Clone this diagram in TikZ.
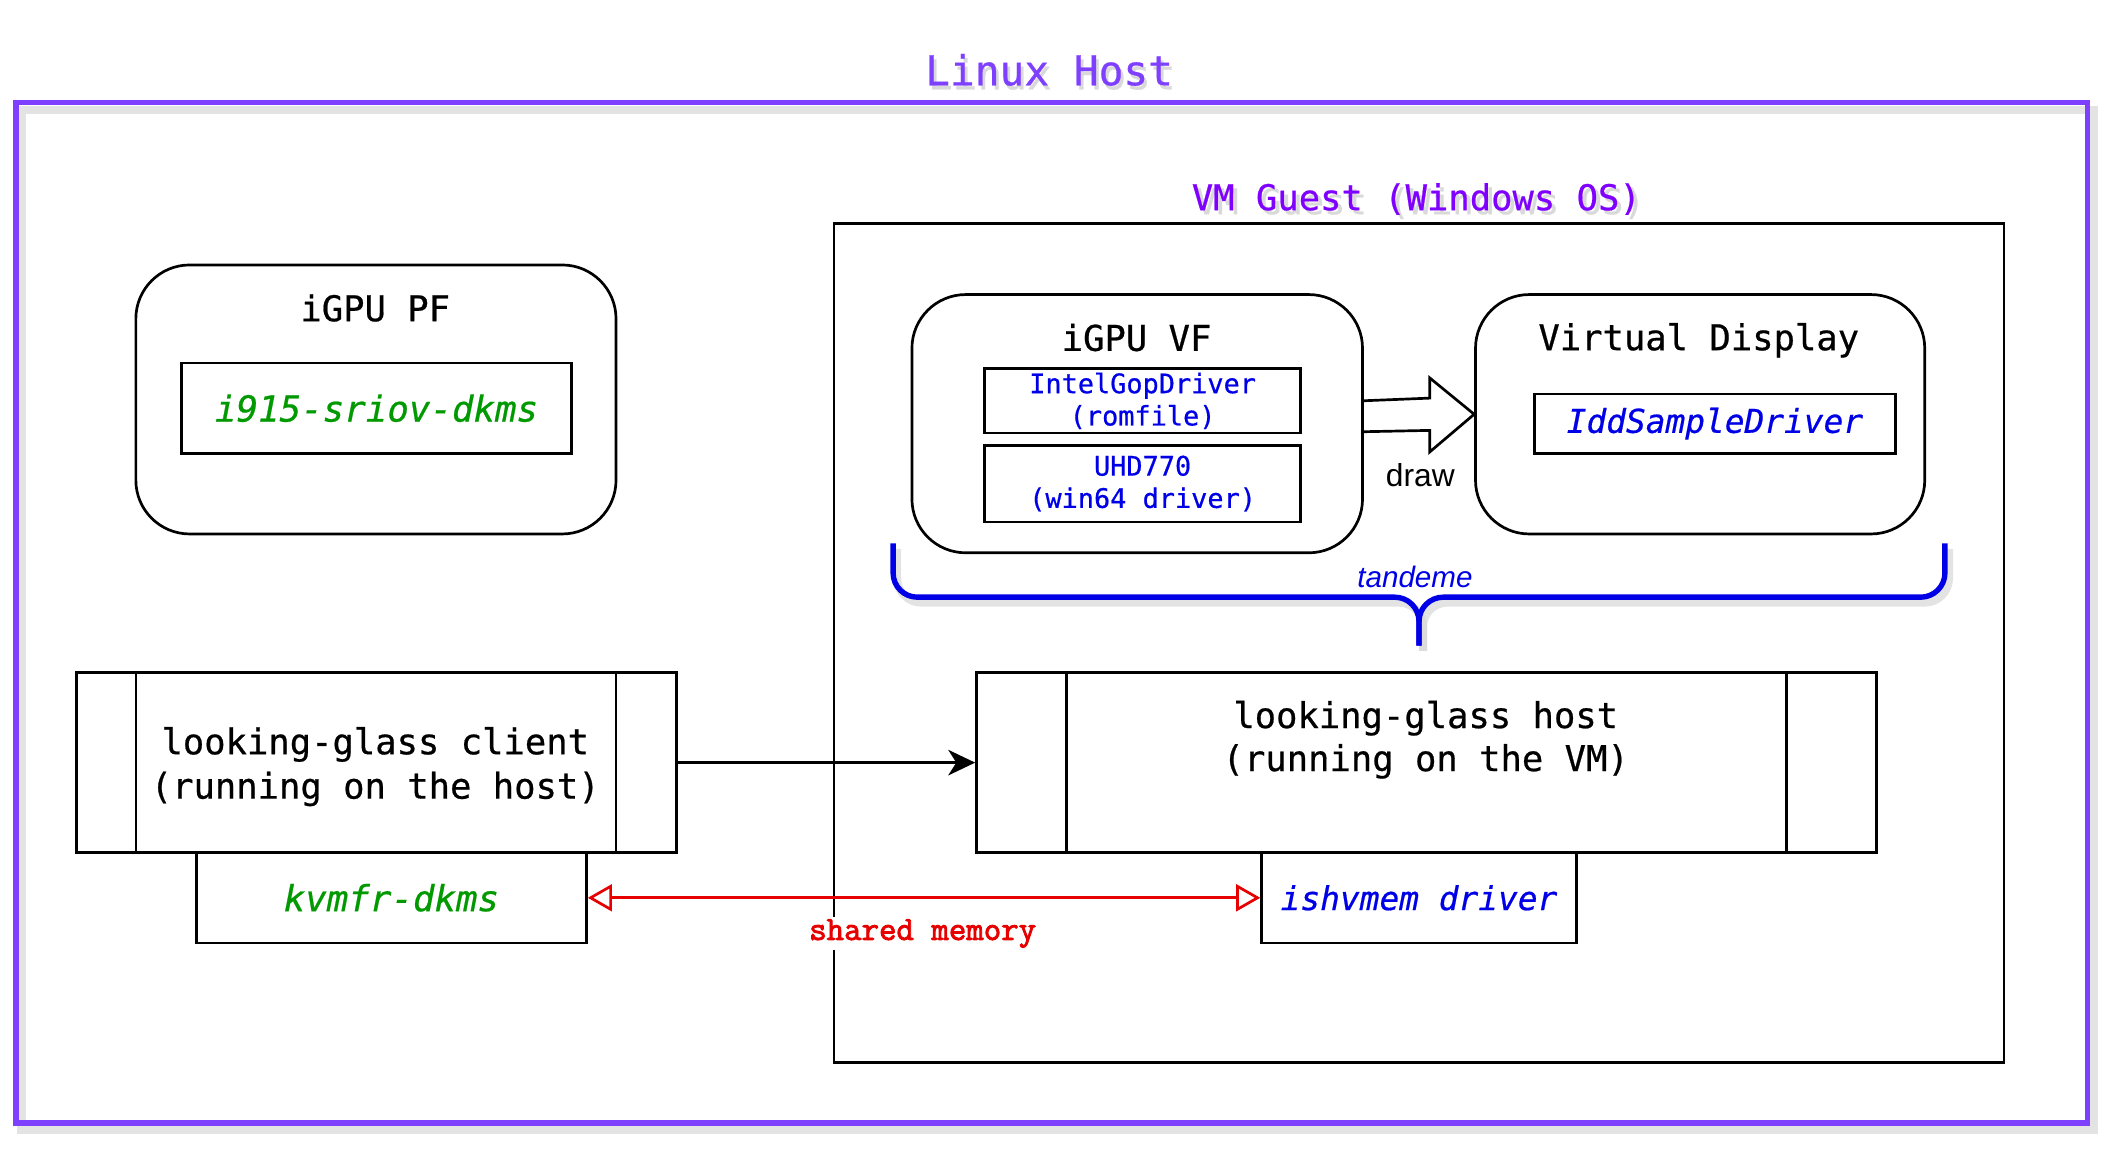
\documentclass[tikz,border=0pt]{standalone}
\usepackage{fontspec}
\setmonofont{DejaVu Sans Mono}[FakeBold=0.6]
\setsansfont{Liberation Sans}
\newfontfamily\courfont{Latin Modern Mono}[FakeBold=2.5]
\usetikzlibrary{arrows.meta,fit,calc}

\definecolor{hostpurple}{RGB}{127,63,255}
\definecolor{guestpurple}{RGB}{127,0,255}
\definecolor{drvgreen}{RGB}{0,153,0}
\definecolor{drvblue}{RGB}{0,0,230}
\definecolor{memred}{RGB}{230,0,0}
\definecolor{shadowgray}{RGB}{215,215,215}

\begin{document}
\begin{tikzpicture}[x=0.5pt,y=-0.5pt,
  box/.style={draw, line width=1pt, inner sep=0pt},
  rbox/.style={draw, line width=1pt, rounded corners=20pt, inner sep=0pt},
  mono/.style={font=\ttfamily\fontsize{13.2pt}{16.5pt}\selectfont, align=center},
  monosmall/.style={font=\ttfamily\fontsize{10pt}{12pt}\selectfont, align=center, text=drvblue},
  drvit/.style={font=\ttfamily\itshape\fontsize{13.3pt}{16pt}\selectfont},
  drvitsmall/.style={font=\ttfamily\itshape\fontsize{12.2pt}{15pt}\selectfont},
  title/.style={font=\ttfamily\fontsize{13.2pt}{16pt}\selectfont},
]
\useasboundingbox (0,0) rectangle (1568,854.3);

% ---------- Linux Host frame ----------
\draw[shadowgray, line width=3pt, opacity=0.7] (16,82) rectangle (1557,840);
\draw[hostpurple, line width=2pt] (12,76) rectangle (1552,835);
\node[font=\ttfamily\fontsize{15.3pt}{18pt}\selectfont, text=black!15] at (782,55) {Linux Host};
\node[font=\ttfamily\fontsize{15.3pt}{18pt}\selectfont, text=hostpurple] (hosttitle) at (780,52) {Linux Host};

% ---------- VM Guest frame ----------
\node[draw, line width=1pt, inner sep=0pt, fit={(620,166) (1490,790)}] (guest) {};
\node[title, text=black!15] at (1056,151) {VM Guest (Windows OS)};
\node[title, text=guestpurple] (guesttitle) at (1053,148) {VM Guest (Windows OS)};

% ---------- iGPU PF ----------
\node[rbox, fit={(101,197) (458,397)}] (pf) {};
\node[title] (pftitle) at (279,229) {iGPU PF};
\node[box, fit={(135,270) (425,337)}] (pfdrv) {};
\node[drvit, text=drvgreen] at (pfdrv.center) {i915-sriov-dkms};

% ---------- iGPU VF ----------
\node[rbox, fit={(678,219) (1013,411)}] (vf) {};
\node[title] (vftitle) at (845,251) {iGPU VF};
\node[box, fit={(732,274) (967,322)}] (gop) {};
\node[monosmall] at (gop.center) {IntelGopDriver\\(romfile)};
\node[box, fit={(732,331) (967,388)}] (uhd) {};
\node[monosmall] at (uhd.center) {UHD770\\(win64 driver)};

% ---------- Virtual Display ----------
\node[rbox, fit={(1097,219) (1431,397)}] (vd) {};
\node[title] (vdtitle) at (1263,253) {Virtual Display};
\node[box, fit={(1141,293) (1409,337)}] (idd) {};
\node[drvitsmall, text=drvblue] at (idd.center) {IddSampleDriver};

% ---------- block arrow "draw" ----------
\draw[line width=1pt, fill=white, line join=miter]
  (1013,298) -- (1063,296) -- (1063,281) -- (vd.west |- 0,308) -- (1063,336) -- (1063,320) -- (1013,321) -- cycle;
\node[font=\sffamily\fontsize{11.8pt}{14pt}\selectfont] (drawlbl) at (1056,353) {draw};

% ---------- brace "tandeme" ----------
\begin{scope}[shift={(3,4)}]
\draw[shadowgray, line width=3pt, rounded corners=9pt, opacity=0.7] (664,404) |- (1055,444) -- (1055,480);
\draw[shadowgray, line width=3pt, rounded corners=9pt, opacity=0.7] (1446,404) |- (1055,444) -- (1055,480);
\end{scope}
\draw[drvblue, line width=2pt, rounded corners=9pt] (664,404) |- (1055,444) -- (1055,480);
\draw[drvblue, line width=2pt, rounded corners=9pt] (1446,404) |- (1055,444) -- (1055,480);
\node[font=\sffamily\itshape\fontsize{11pt}{13pt}\selectfont, text=drvblue] (tandeme) at (1052,429) {tandeme};

% ---------- looking-glass client ----------
\node[box, fit={(57,500) (503,634)}] (client) {};
\draw[line width=1pt] (101,500) -- (101,634) (458,500) -- (458,634);
\node[mono] at (279,570) {looking-glass client\\(running on the host)};
\node[box, fit={(146,634) (436,701)}] (kvmfr) {};
\node[drvit, text=drvgreen] at (kvmfr.center) {kvmfr-dkms};

% ---------- looking-glass host ----------
\node[box, fit={(726,500) (1395,634)}] (host) {};
\draw[line width=1pt] (793,500) -- (793,634) (1328,500) -- (1328,634);
\node[mono, font=\ttfamily\fontsize{13.2pt}{16pt}\selectfont] at (1060,550) {looking-glass host\\(running on the VM)};
\node[box, fit={(938,634) (1172,701)}] (ishvmem) {};
\node[drvitsmall, text=drvblue] at (ishvmem.center) {ishvmem driver};

% ---------- connectors ----------
\draw[line width=1pt, -{Stealth[length=10pt,width=9.5pt,inset=3pt]}] (client.east) -- (host.west);
\node[font=\courfont\fontsize{12.6pt}{14pt}\selectfont, text=memred, fill=white, inner sep=1pt] (shm) at (686,694) {shared memory};
\draw[memred, line width=1pt,
  {Triangle[length=9pt,width=10pt,fill=white]}-{Triangle[length=9pt,width=10pt,fill=white]}]
  (kvmfr.east) -- (ishvmem.west);
\end{tikzpicture}
\end{document}
